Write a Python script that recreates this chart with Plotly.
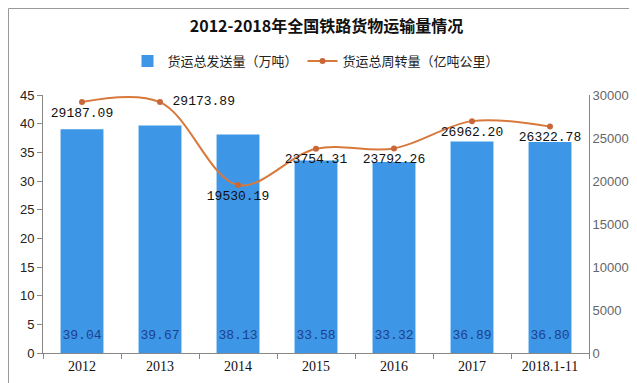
import plotly.graph_objects as go

categories = ["2012", "2013", "2014", "2015", "2016", "2017", "2018.1-11"]
freight_volume = [39.04, 39.67, 38.13, 33.58, 33.32, 36.89, 36.80]
freight_turnover = [29187.09, 29173.89, 19530.19, 23754.31, 23792.26, 26962.20, 26322.78]
line_text_pos = ["bottom center", "middle right", "bottom center", "bottom center",
                 "bottom center", "bottom center", "bottom center"]

W, H = 637, 383
ml, mr, mt, mb = 35, 56, 87, 38
bar_label_y = 3.0

fig = go.Figure()
fig.add_trace(go.Bar(
    x=categories, y=freight_volume, name="货运总发送量（万吨）",
    marker=dict(color="#3d97e6", line=dict(width=0)),
    width=0.55,
    yaxis="y",
))
fig.add_trace(go.Scatter(
    x=categories, y=[bar_label_y] * len(categories), mode="text",
    text=[f"{v:.2f}" for v in freight_volume], textposition="middle center",
    textfont=dict(family="Liberation Mono", size=13, color="#1d3f8e"),
    showlegend=False, hoverinfo="skip", yaxis="y",
))
fig.add_trace(go.Scatter(
    x=categories, y=freight_turnover, name="货运总周转量（亿吨公里）",
    mode="lines+markers+text",
    line=dict(color="#d8793c", width=2, shape="spline", smoothing=1),
    marker=dict(color="#c8683a", size=6),
    text=[(" " if p == "middle right" else "") + f"{v:.2f}" for v, p in zip(freight_turnover, line_text_pos)],
    textposition=line_text_pos,
    textfont=dict(family="Liberation Mono", size=13, color="#111111"),
    yaxis="y2",
))

fig.update_layout(
    width=W, height=H,
    margin=dict(l=ml, r=mr, t=mt, b=mb),
    paper_bgcolor="white", plot_bgcolor="white",
    title=dict(text="<b>2012-2018年全国铁路货物运输量情况</b>", x=0.5, xanchor="center",
               y=1 - 18 / H, yanchor="middle",
               font=dict(family="Noto Sans CJK SC", size=16, color="#111111")),
    legend=dict(orientation="h", x=0.5, xanchor="center", y=1 + (mt - 53) / (H - mt - mb),
                yanchor="middle", font=dict(family="Noto Sans CJK SC", size=13, color="#222222"),
                bgcolor="rgba(0,0,0,0)"),
    xaxis=dict(showline=True, linecolor="#888888", linewidth=1, ticks="outside",
               tickson="boundaries", ticklen=5, tickcolor="#888888",
               tickfont=dict(family="Liberation Serif", size=14, color="#111111"),
               showgrid=False),
    yaxis=dict(range=[0, 45], dtick=5, showline=True, linecolor="#888888", linewidth=1,
               ticks="outside", ticklen=5, tickcolor="#888888", showgrid=False, zeroline=False,
               tickfont=dict(family="Liberation Sans", size=13, color="#222222")),
    yaxis2=dict(range=[0, 30000], dtick=5000, tickformat="d", overlaying="y", side="right",
                showline=True, linecolor="#888888", linewidth=1, ticks="", showgrid=False,
                zeroline=False,
                tickfont=dict(family="Liberation Sans", size=13, color="#666666")),
    font=dict(family="Noto Sans CJK SC"),
)

pw = W - ml - mr
ph = H - mt - mb
fig.add_shape(type="rect", xref="paper", yref="paper",
              x0=(0.5 - ml) / pw, x1=(W - 0.5 - ml) / pw,
              y0=-(mb - 0.5) / ph, y1=1 + (mt - 0.5) / ph,
              line=dict(color="#999999", width=1), fillcolor="rgba(0,0,0,0)", layer="below")

fig.write_html("out.html")
